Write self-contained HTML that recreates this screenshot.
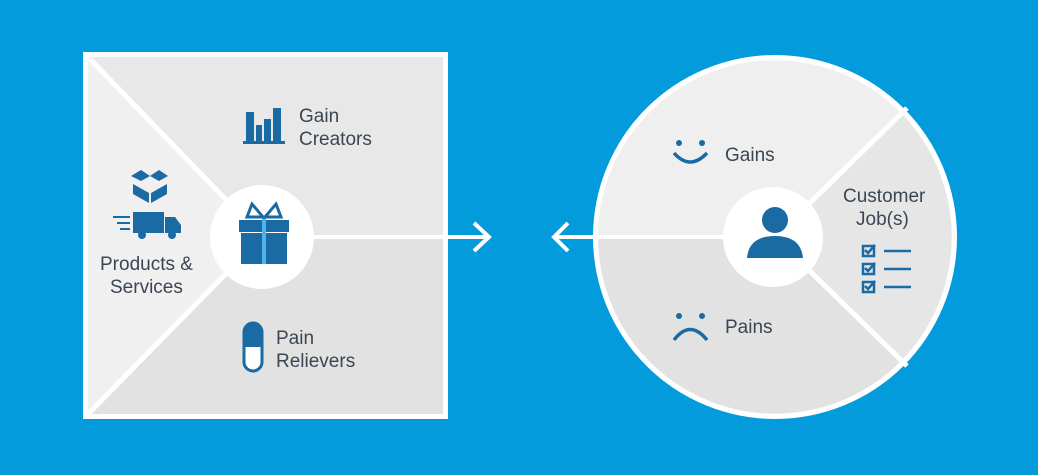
<!DOCTYPE html>
<html><head><meta charset="utf-8"><style>
html,body{margin:0;padding:0;background:#049bdc;}
svg{display:block}
text{font-family:"Liberation Sans",sans-serif;fill:#3b4654;font-size:19px}
</style></head><body>
<svg width="1038" height="475" viewBox="0 0 1038 475">
<rect width="1038" height="475" fill="#049bdc"/>
<!-- square -->
<rect x="83" y="52" width="365" height="367" fill="#fff"/>
<polygon points="88,57 262,237 88,414" fill="#f0f0f0"/>
<polygon points="88,57 443,57 443,237 262,237" fill="#e8e8e8"/>
<polygon points="88,414 262,237 443,237 443,414" fill="#e2e2e2"/>
<line x1="88" y1="57" x2="262" y2="237" stroke="#fff" stroke-width="5"/>
<line x1="88" y1="414" x2="262" y2="237" stroke="#fff" stroke-width="5"/>
<line x1="262" y1="237" x2="488" y2="237" stroke="#fff" stroke-width="4"/>
<polyline points="474,223 489,237 474,251" fill="none" stroke="#fff" stroke-width="4"/>
<circle cx="262" cy="237" r="52" fill="#fff"/>
<!-- gift -->
<rect x="239" y="220" width="50" height="12" fill="#1a6aa3"/>
<rect x="241" y="233" width="46" height="31" fill="#1a6aa3"/>
<rect x="262" y="218" width="4" height="46" fill="#4fb2ea"/>
<polygon points="263,217 252,204 247,217" fill="none" stroke="#1a6aa3" stroke-width="3"/>
<polygon points="265,217 276,204 281,217" fill="none" stroke="#1a6aa3" stroke-width="3"/>
<!-- gain creators icon -->
<g fill="#1a6aa3"><rect x="246" y="112" width="8" height="30"/><rect x="256" y="125" width="6" height="17"/><rect x="264" y="119" width="7" height="23"/><rect x="273" y="108" width="8" height="34"/><rect x="243" y="141" width="42" height="3"/></g>
<text x="299" y="122">Gain</text><text x="299" y="145">Creators</text>
<!-- pill -->
<rect x="244" y="323" width="18" height="48" rx="9" fill="#fff" stroke="#1a6aa3" stroke-width="3"/>
<path d="M244,332 a9,9 0 0 1 18,0 V347 H244Z" fill="#1a6aa3"/>
<text x="276" y="344">Pain</text><text x="276" y="367">Relievers</text>
<!-- box & truck -->
<g fill="#1a6aa3">
<polygon points="131,176 141,170 150,176 141,181"/><polygon points="150,176 159,170 168,176 159,181"/>
<polygon points="133,184 149,193 149,203 133,194"/><polygon points="167,184 151,193 151,203 167,194"/>
<rect x="133" y="212" width="31" height="21"/><polygon points="165,217 175,217 181,225 181,233 165,233"/>
<rect x="113" y="216" width="17" height="2"/><rect x="117" y="222" width="13" height="2"/><rect x="120" y="228" width="10" height="2"/>
<circle cx="142" cy="235" r="4"/><circle cx="172" cy="235" r="4"/>
</g>
<text x="100" y="270">Products &amp;</text><text x="110" y="293">Services</text>
<!-- circle -->
<circle cx="775" cy="237" r="182" fill="#fff"/>
<path d="M775,237 L598,237 A177,177 0 0 1 900,112 Z" fill="#efefef"/>
<path d="M775,237 L598,237 A177,177 0 0 0 900,362 Z" fill="#e2e2e2"/>
<path d="M775,237 L900,112 A177,177 0 0 1 900,362 Z" fill="#e6e6e6"/>
<line x1="775" y1="237" x2="907" y2="108" stroke="#fff" stroke-width="5"/>
<line x1="775" y1="237" x2="907" y2="366" stroke="#fff" stroke-width="5"/>
<line x1="554" y1="237" x2="775" y2="237" stroke="#fff" stroke-width="4"/>
<polyline points="568,223 554,237 568,251" fill="none" stroke="#fff" stroke-width="4"/>
<circle cx="773" cy="237" r="50" fill="#fff"/>
<circle cx="775" cy="220" r="13" fill="#1a6aa3"/>
<path d="M747,258 Q749,236 775,236 Q801,236 803,258 Z" fill="#1a6aa3"/>
<!-- gains -->
<circle cx="679" cy="143" r="3" fill="#1a6aa3"/><circle cx="702" cy="143" r="3" fill="#1a6aa3"/>
<path d="M674,153 Q690,171 707,153" fill="none" stroke="#1a6aa3" stroke-width="3.5"/>
<text x="725" y="161">Gains</text>
<circle cx="679" cy="316" r="3" fill="#1a6aa3"/><circle cx="702" cy="316" r="3" fill="#1a6aa3"/>
<path d="M674,340 Q690,319 707,340" fill="none" stroke="#1a6aa3" stroke-width="3.5"/>
<text x="725" y="333">Pains</text>
<text x="843" y="202">Customer</text><text x="856" y="225">Job(s)</text>
<g fill="none" stroke="#1a6aa3" stroke-width="2.5">
<rect x="863" y="246" width="11" height="10"/><rect x="863" y="264" width="11" height="10"/><rect x="863" y="282" width="11" height="10"/>
<line x1="884" y1="251" x2="911" y2="251"/><line x1="884" y1="269" x2="911" y2="269"/><line x1="884" y1="287" x2="911" y2="287"/>
<polyline points="865,250 868,253 875,245"/><polyline points="865,268 868,271 875,263"/><polyline points="865,286 868,289 875,281"/>
</g>
</svg>
</body></html>
